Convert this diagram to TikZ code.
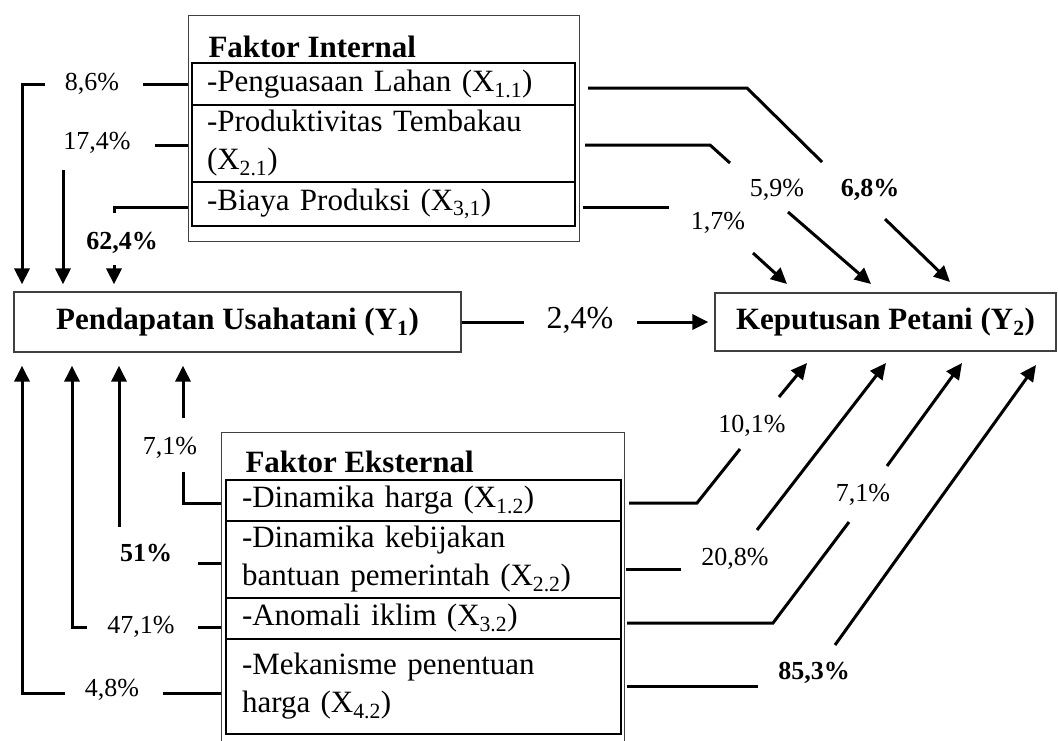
\documentclass[tikz,border=0pt]{standalone}
\usepackage{fontspec}
\setmainfont{Liberation Serif}
\usetikzlibrary{arrows.meta}

\begin{document}
\begin{tikzpicture}[x=1pt,y=-1pt,
    link/.style={line width=3pt},
    arr/.style={line width=3pt,-{Triangle[length=16pt,width=15pt]}},
    frame/.style={draw=black!75,line width=1pt,anchor=north west,outer sep=0pt,inner sep=0pt},
    row/.style={draw,line width=1.8pt,anchor=north west,outer sep=0pt,inner ysep=0pt,
      align=left,font=\fontsize{31}{38}\selectfont},
    mainbox/.style={draw=black!75,line width=1.2pt,inner sep=0pt,
      font=\bfseries\fontsize{31}{38}\selectfont},
    title/.style={anchor=base west,font=\bfseries\fontsize{31}{38}\selectfont}]

  \useasboundingbox (0,0) rectangle (1058,740);

  % frames of both factor groups
  \node[frame,minimum width=391pt,minimum height=226pt] (int) at (188,15) {};
  \node[frame,minimum width=403pt,minimum height=330pt] (ext) at (221,432) {};
  \node[title] (ti) at (205,57) {Faktor Internal};
  \node[title] (te) at (242,472) {Faktor Eksternal};

  \begin{scope}[every node/.style={row,text width=353pt,inner xsep=15pt}]
    \node[minimum height=42pt] (x11) at (192,63) {-Penguasaan Lahan (X\textsubscript{1.1})};
    \node[minimum height=77pt] (x21) at (x11.south west) {-Produktivitas Tembakau\\(X\textsubscript{2.1})};
    \node[minimum height=44pt] (x31) at (x21.south west) {-Biaya Produksi (X\textsubscript{3,1})};
  \end{scope}

  \begin{scope}[every node/.style={row,text width=363pt,inner xsep=16pt}]
    \node[minimum height=41pt] (x12) at (226,480) {-Dinamika harga (X\textsubscript{1.2})};
    \node[minimum height=77pt] (x22) at (x12.south west) {-Dinamika kebijakan\\bantuan pemerintah (X\textsubscript{2.2})};
    \node[minimum height=41pt] (x32) at (x22.south west) {-Anomali iklim (X\textsubscript{3.2})};
    \node[minimum height=95pt] (x42) at (x32.south west) {-Mekanisme penentuan\\harga (X\textsubscript{4.2})};
  \end{scope}

  \node[mainbox,minimum width=447pt,minimum height=60pt] (y1) at (237.5,322) {Pendapatan Usahatani (Y\textsubscript{1})};
  \node[mainbox,minimum width=341pt,minimum height=58pt] (y2) at (885.5,322) {Keputusan Petani (Y\textsubscript{2})};

  \begin{scope}[every node/.style={font=\fontsize{26}{31}\selectfont}]
    \node (l86) at (92,84) {8,6\%};
    \node (l174) at (97,143) {17,4\%};
    \node[font=\bfseries\fontsize{26}{31}\selectfont] (l624) at (122,243) {62,4\%};
    \node[font=\bfseries\fontsize{26}{31}\selectfont] (l68) at (870,190) {6,8\%};
    \node (l59) at (777,190) {5,9\%};
    \node (l17) at (718,223) {1,7\%};
    \node[font=\fontsize{32}{38}\selectfont] (l24) at (580,320) {2,4\%};
    \node (l71a) at (170,448) {7,1\%};
    \node[font=\bfseries\fontsize{26}{31}\selectfont] (l51) at (146,553) {51\%};
    \node (l471) at (141,627) {47,1\%};
    \node (l48) at (112,690) {4,8\%};
    \node (l101) at (752,426) {10,1\%};
    \node (l208) at (735,559) {20,8\%};
    \node (l71b) at (863,495) {7,1\%};
    \node[font=\bfseries\fontsize{26}{31}\selectfont] (l853) at (814,673) {85,3\%};
  \end{scope}

  % bend points and free ends
  \coordinate (a1) at (143,84);  \coordinate (a2) at (45,84);   \coordinate (a3) at (22,84);
  \coordinate (b1) at (155,145); \coordinate (b2) at (63,170);
  \coordinate (c1) at (114,207); \coordinate (c2) at (114,213); \coordinate (c3) at (114,265);
  \coordinate (d1) at (183,503); \coordinate (d2) at (183,472); \coordinate (d3) at (183,418);
  \coordinate (e1) at (198,563); \coordinate (e2) at (119,527);
  \coordinate (f1) at (198,627); \coordinate (f2) at (87,627);  \coordinate (f3) at (72,627);
  \coordinate (g1) at (163,693); \coordinate (g2) at (65,693);  \coordinate (g3) at (22,693);
  \coordinate (h0) at (588,88);  \coordinate (h1) at (747,88);  \coordinate (h2) at (822,162);
  \coordinate (h3) at (885,219); \coordinate (h4) at (950,282);
  \coordinate (i0) at (585,145); \coordinate (i1) at (710,145); \coordinate (i2) at (730,163);
  \coordinate (i3) at (788,212); \coordinate (i4) at (871,284);
  \coordinate (j0) at (583,207); \coordinate (j1) at (669,207);
  \coordinate (j3) at (753,253); \coordinate (j4) at (787,284);
  \coordinate (k0) at (629,503); \coordinate (k1) at (697,503); \coordinate (k2) at (740,449);
  \coordinate (k3) at (779,397); \coordinate (k4) at (807,363);
  \coordinate (m0) at (626,569); \coordinate (m1) at (681,569);
  \coordinate (m2) at (757,530); \coordinate (m3) at (886,363);
  \coordinate (n0) at (627,623); \coordinate (n1) at (773,623); \coordinate (n2) at (849,522);
  \coordinate (n3) at (887,466); \coordinate (n4) at (962,363);
  \coordinate (o0) at (627,686); \coordinate (o1) at (758,686);
  \coordinate (o2) at (835,645); \coordinate (o3) at (1036,365);
  \coordinate (p1) at (524,322); \coordinate (p2) at (637,322);

  % internal factors -> Y1
  \draw[link] (int.west |- a1) -- (a1);
  \draw[arr,shorten >=7pt] (a2) -- (a3) -- (a3 |- y1.north);
  \draw[link] (int.west |- b1) -- (b1);
  \draw[arr,shorten >=7pt] (b2) -- (b2 |- y1.north);
  \draw[link] (int.west |- c1) -- (c1) -- (c2);
  \draw[arr,shorten >=7pt] (c3) -- (c3 |- y1.north);

  % external factors -> Y1
  \draw[link] (ext.west |- d1) -- (d1) -- (d2);
  \draw[arr,shorten >=13pt] (d3) -- (d3 |- y1.south);
  \draw[link] (ext.west |- e1) -- (e1);
  \draw[arr,shorten >=13pt] (e2) -- (e2 |- y1.south);
  \draw[link] (ext.west |- f1) -- (f1);
  \draw[arr,shorten >=13pt] (f2) -- (f3) -- (f3 |- y1.south);
  \draw[link] (ext.west |- g1) -- (g1);
  \draw[arr,shorten >=13pt] (g2) -- (g3) -- (g3 |- y1.south);

  % internal factors -> Y2
  \draw[link] (h0) -- (h1) -- (h2);
  \draw[arr] (h3) -- (h4);
  \draw[link] (i0) -- (i1) -- (i2);
  \draw[arr] (i3) -- (i4);
  \draw[link] (j0) -- (j1);
  \draw[arr] (j3) -- (j4);

  % external factors -> Y2
  \draw[link] (k0) -- (k1) -- (k2);
  \draw[arr] (k3) -- (k4);
  \draw[link] (m0) -- (m1);
  \draw[arr] (m2) -- (m3);
  \draw[link] (n0) -- (n1) -- (n2);
  \draw[arr] (n3) -- (n4);
  \draw[link] (o0) -- (o1);
  \draw[arr] (o2) -- (o3);

  % Y1 -> Y2
  \draw[link] (y1.east) -- (p1);
  \draw[arr,shorten >=6pt] (p2) -- (y2.west);

\end{tikzpicture}
\end{document}
